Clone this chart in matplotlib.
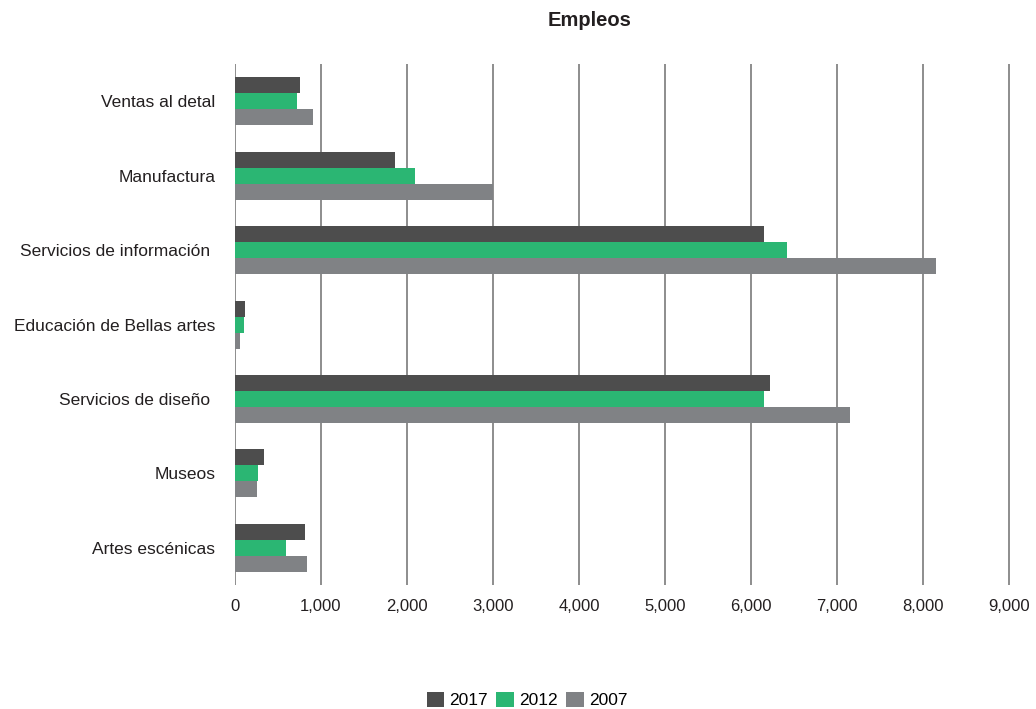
import matplotlib
matplotlib.use('Agg')
import matplotlib.pyplot as plt
import numpy as np

categorias = ['Ventas al detal', 'Manufactura', 'Servicios de información ',
              'Educación de Bellas artes', 'Servicios de diseño ', 'Museos',
              'Artes escénicas']
empleos_2017 = [760, 1865, 6155, 120, 6215, 340, 815]
empleos_2012 = [725, 2095, 6420, 108, 6155, 270, 595]
empleos_2007 = [910, 3000, 8145, 62, 7155, 260, 840]
anios = ['2017', '2012', '2007']
colores = ['#4d4d4d', '#2bb673', '#808285']
ticks_x = list(range(0, 10000, 1000))

plt.rcParams['font.family'] = ['Liberation Sans', 'DejaVu Sans']

fig = plt.figure(figsize=(10.36, 7.09), dpi=100)
ax = fig.add_axes([0.2265, 0.1749, 0.9825 - 0.2265, 0.9097 - 0.1749])

y = np.arange(len(categorias))
h = 0.215
for k, (serie, c, lab) in enumerate(zip([empleos_2017, empleos_2012, empleos_2007], colores, anios)):
    ax.barh(y + (k - 1) * h, serie, height=h, color=c, label=lab, zorder=3)

ax.set_xlim(0, 9100)
ax.set_ylim(len(categorias) - 0.5, -0.5)
ax.set_xticks(ticks_x)
ax.set_xticklabels(['0'] + [f'{t:,}' for t in ticks_x[1:]])
ax.set_yticks(y)
ax.set_yticklabels(categorias)
ax.tick_params(axis='both', length=0, colors='#231f20')
ax.tick_params(axis='x', pad=10, labelsize=12)
ax.tick_params(axis='y', pad=14, labelsize=12.5)
for t in ticks_x:
    ax.axvline(t, color='#858585', lw=1.3, zorder=1)
for s in ax.spines.values():
    s.set_visible(False)

fig.text(590 / 1036, 1 - 20 / 709, 'Empleos', ha='center', va='center',
         fontsize=14.5, fontweight='bold', color='#231f20')

fig.legend(loc='center', bbox_to_anchor=(527 / 1036, 1 - 700 / 709), ncol=3,
           frameon=False, handlelength=1.0, handleheight=1.0, handletextpad=0.3,
           columnspacing=0.5, fontsize=12.5, borderaxespad=0)

fig.savefig('out.png', dpi=100)
